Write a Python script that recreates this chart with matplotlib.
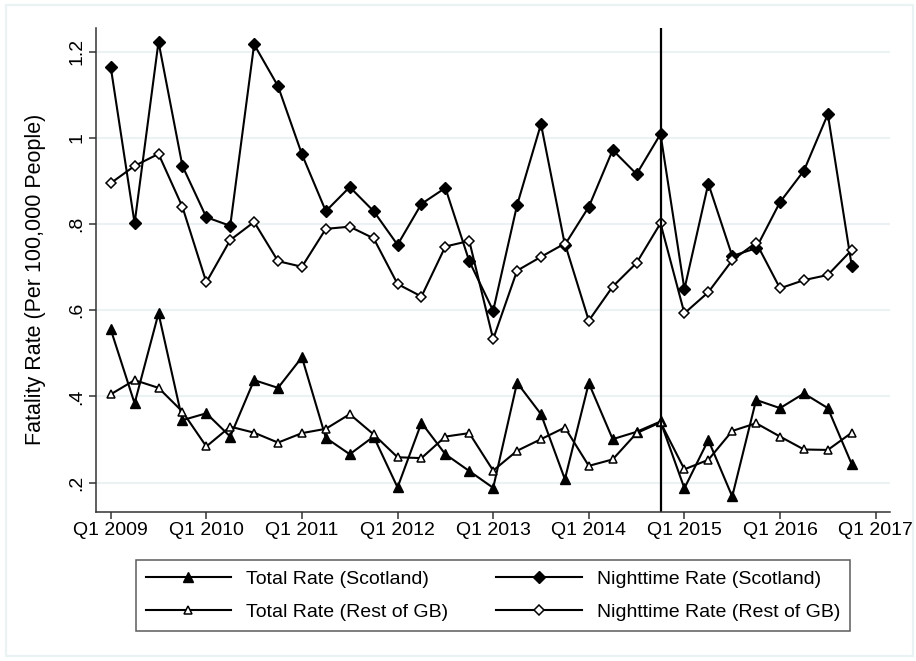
import numpy as np
import matplotlib
matplotlib.use('Agg')
import matplotlib.pyplot as plt
from matplotlib.patches import Rectangle

plt.rcParams['font.family'] = ['Liberation Sans', 'DejaVu Sans']

# quarters Q1 2009 .. Q4 2016
quarter_idx = np.arange(32)
tick_labels = ['Q1 2009', 'Q1 2010', 'Q1 2011', 'Q1 2012', 'Q1 2013',
               'Q1 2014', 'Q1 2015', 'Q1 2016', 'Q1 2017']
policy_quarter = 23  # Q4 2014

total_scot = [0.556, 0.384, 0.593, 0.345, 0.361, 0.307, 0.438, 0.420,
              0.491, 0.304, 0.266, 0.307, 0.189, 0.339, 0.266, 0.227,
              0.188, 0.432, 0.359, 0.208, 0.431, 0.301, 0.318, 0.342,
              0.187, 0.299, 0.168, 0.392, 0.373, 0.407, 0.373, 0.243]
total_rest = [0.405, 0.438, 0.420, 0.365, 0.284, 0.330, 0.316, 0.293,
              0.315, 0.325, 0.359, 0.312, 0.259, 0.257, 0.307, 0.315,
              0.228, 0.274, 0.301, 0.328, 0.239, 0.254, 0.315, 0.340,
              0.231, 0.253, 0.320, 0.338, 0.307, 0.277, 0.276, 0.316]
night_scot = [1.165, 0.802, 1.223, 0.935, 0.816, 0.796, 1.217, 1.120,
              0.962, 0.830, 0.886, 0.830, 0.752, 0.847, 0.884, 0.714,
              0.599, 0.844, 1.032, 0.752, 0.840, 0.972, 0.916, 1.009,
              0.649, 0.894, 0.726, 0.744, 0.851, 0.924, 1.055, 0.703]
night_rest = [0.895, 0.935, 0.963, 0.840, 0.665, 0.763, 0.805, 0.714,
              0.701, 0.789, 0.794, 0.767, 0.661, 0.632, 0.748, 0.761,
              0.533, 0.692, 0.724, 0.755, 0.576, 0.655, 0.710, 0.802,
              0.593, 0.642, 0.716, 0.757, 0.651, 0.670, 0.682, 0.740]

fig = plt.figure(figsize=(9.16, 6.61), dpi=100)
ax = fig.add_axes([0.1048, 0.2259, 0.8668, 0.7317])

lw = 1.5
h1, = ax.plot(quarter_idx, total_scot, color='black', lw=lw, marker='^',
              ms=7.5, mfc='black', mec='black', label='Total Rate (Scotland)')
h2, = ax.plot(quarter_idx, night_scot, color='black', lw=lw, marker='D',
              ms=6.5, mfc='black', mec='black', label='Nighttime Rate (Scotland)')
h3, = ax.plot(quarter_idx, total_rest, color='black', lw=lw, marker='^',
              ms=6, mfc='white', mec='black', mew=1.1, label='Total Rate (Rest of GB)')
h4, = ax.plot(quarter_idx, night_rest, color='black', lw=lw, marker='D',
              ms=5.5, mfc='white', mec='black', mew=1.1, label='Nighttime Rate (Rest of GB)')

ax.axvline(policy_quarter, color='black', lw=1.6)

ax.set_xlim(-0.615, 32.6)
ax.set_ylim(0.1327, 1.255)
ax.set_xticks(np.arange(0, 33, 4))
ax.set_xticklabels(tick_labels)
ax.set_yticks([0.2, 0.4, 0.6, 0.8, 1.0, 1.2])
ax.set_yticklabels(['.2', '.4', '.6', '.8', '1', '1.2'], rotation=90, va='center')
ax.tick_params(axis='both', labelsize=14, length=5, width=1.1, color='#333333', pad=2.5)
ax.set_ylabel('Fatality Rate (Per 100,000 People)', fontsize=15.5, labelpad=5)
ax.yaxis.set_label_coords(-0.063, 0.48)

ax.grid(axis='y', color='#eaf2f3', lw=1.5)
ax.set_axisbelow(True)
for s in ['top', 'right']:
    ax.spines[s].set_visible(False)
for s in ['left', 'bottom']:
    ax.spines[s].set_color('#333333')
    ax.spines[s].set_linewidth(1.1)

leg = fig.legend([h1, h3, h2, h4],
                 [h.get_label() for h in [h1, h3, h2, h4]],
                 ncol=2, loc='center', bbox_to_anchor=(0.538, 0.099),
                 fontsize=14, frameon=True, fancybox=False,
                 edgecolor='#333333', handlelength=4.4, handletextpad=0.75,
                 columnspacing=2.5, labelspacing=0.82, borderpad=0.5)
leg.get_frame().set_linewidth(1.1)

fig.patches.append(Rectangle((6 / 916, 5 / 661), 906.5 / 916, 651 / 661,
                             transform=fig.transFigure, fill=False,
                             edgecolor='#eaf2f3', lw=1.6))

fig.savefig('out.png', dpi=100)
